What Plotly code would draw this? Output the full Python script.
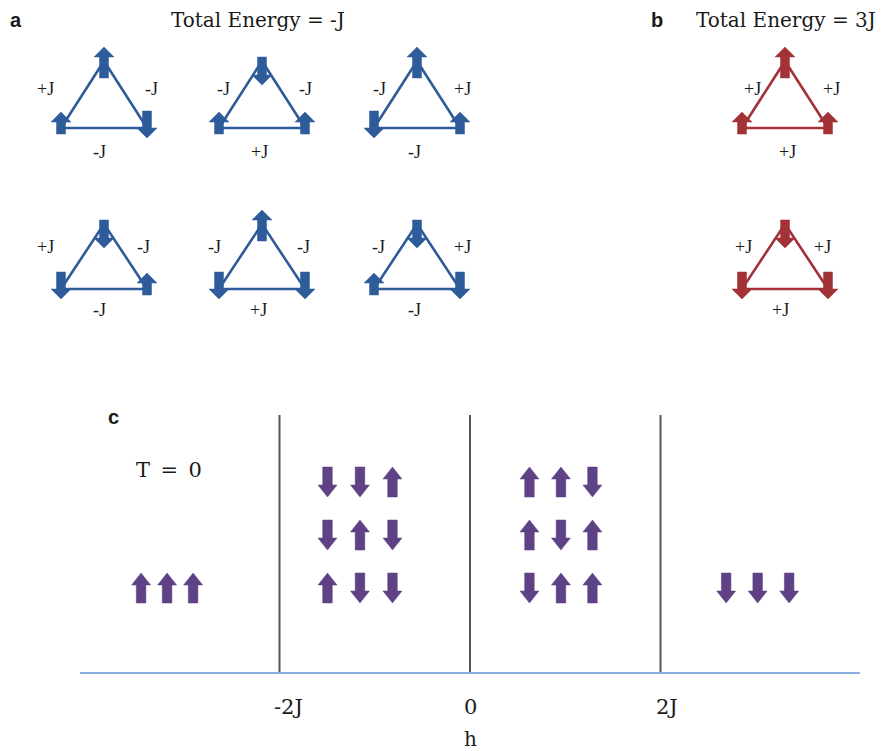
import plotly.graph_objects as go

W, H = 896, 751
OFF = 8  # page body margin in the browser

# ---------------- data ----------------
# spins at (top, bottom-left, bottom-right) vertices: +1 = up, -1 = down
a_spins = [[1, 1, -1], [-1, 1, 1], [1, -1, 1],
           [-1, -1, 1], [1, -1, -1], [-1, 1, -1]]
# bond labels (left edge, right edge, bottom edge)
a_bonds = [["+J", "-J", "-J"], ["-J", "-J", "+J"], ["-J", "+J", "-J"],
           ["+J", "-J", "-J"], ["-J", "-J", "+J"], ["-J", "+J", "-J"]]
b_spins = [[1, 1, 1], [-1, -1, -1]]
b_bonds = [["+J", "+J", "+J"], ["+J", "+J", "+J"]]

a_title = "Total Energy = -J"
b_title = "Total Energy = 3J"

# panel c: ground states in each field range
h_ticks = [-2, 0, 2]
h_tick_text = ["-2J", "0", "2J"]
h_label = "h"
phase_states = [
    [[1, 1, 1]],
    [[-1, -1, 1], [-1, 1, -1], [1, -1, -1]],
    [[1, 1, -1], [1, -1, 1], [-1, 1, 1]],
    [[-1, -1, -1]],
]
phase_center_h = [-3.18, -1.155, 0.955, 3.02]
phase_spacing_px = [26, 32.5, 31.5, 31.5]

# ---------------- styles / layout ----------------
BLUE = "#2E5B9A"
RED = "#A33236"
PURPLE = "#5F4285"
AXIS_BLUE = "#8CB0DF"
TEXT = "#1a1a1a"
SERIF = "DejaVu Serif"
LSERIF = "Liberation Serif"

a_cx = [104, 262, 417, 104, 262, 417]
a_row = [0, 0, 0, 1, 1, 1]
b_cx = [785, 785]
b_row = [0, 1]
apex_y = [61, 224]
base_y = [128, 289]
half_w = 43
side_label_y = [89, 247]
bottom_label_y = [152, 310]
a_label_dx = [(-59, 47, -5), (-39, 43, -3), (-38, 45, -3),
              (-59, 39, -5), (-48, 41, -4), (-39, 45, -3)]
b_label_dx = [(-33, 46, 2), (-42, 37, -5)]

# panel c pixel mapping
c_h0_px = 470
c_px_per_h = 95.25
c_left, c_right = 80, 860
c_top, c_bottom = 415, 672
c_row_y = [482, 535, 588]
tick_label_xshift = [9, 0, 6]
tick_label_y = 707
h_label_y = 739

FW, FH = W - 2 * OFF, H - OFF


def block_arrow(cx, y_tail, y_tip, shw, hhw, hl):
    d = 1 if y_tip > y_tail else -1
    neck = y_tip - d * hl
    xs = [cx - shw, cx - shw, cx - hhw, cx, cx + hhw, cx + shw, cx + shw, cx - shw, None]
    ys = [y_tail, neck, neck, y_tip, neck, neck, y_tail, y_tail, None]
    return xs, ys


fig = go.Figure()
annotations = []


def add_triangles(spins, bonds, cxs, rows, dxs, color):
    lx, ly = [], []
    ax, ay = [], []
    for s, b, cx, r, dx in zip(spins, bonds, cxs, rows, dxs):
        top = (cx, apex_y[r])
        bl = (cx - half_w, base_y[r])
        br = (cx + half_w, base_y[r])
        for p in (top, bl, br, top):
            lx.append(p[0]); ly.append(p[1])
        lx.append(None); ly.append(None)
        for k, (vx, vy) in enumerate((top, bl, br)):
            if k == 0:
                if s[k] > 0:
                    tail, tip = vy + 17, vy - 14
                else:
                    tail, tip = vy - 4, vy + 24
            else:
                if s[k] > 0:
                    tail, tip = vy + 6, vy - 16
                else:
                    tail, tip = vy - 17, vy + 10
            xs, ys = block_arrow(vx, tail, tip, 4.5, 10, 10)
            ax += xs; ay += ys
        for txt, x, y in ((b[0], cx + dx[0], side_label_y[r]),
                          (b[1], cx + dx[1], side_label_y[r]),
                          (b[2], cx + dx[2], bottom_label_y[r])):
            annotations.append(dict(x=x, y=y, xref="x", yref="y", text=txt,
                                    showarrow=False, xanchor="center", yanchor="middle",
                                    font=dict(family=LSERIF, size=18, color=TEXT)))
    fig.add_trace(go.Scatter(x=lx, y=ly, mode="lines", line=dict(color=color, width=2.6),
                             hoverinfo="skip", showlegend=False, xaxis="x", yaxis="y"))
    fig.add_trace(go.Scatter(x=ax, y=ay, mode="lines", fill="toself", fillcolor=color,
                             line=dict(color=color, width=0.5), hoverinfo="skip",
                             showlegend=False, xaxis="x", yaxis="y"))


add_triangles(a_spins, a_bonds, a_cx, a_row, a_label_dx, BLUE)
add_triangles(b_spins, b_bonds, b_cx, b_row, b_label_dx, RED)

# panel c arrows
px_, py_ = [], []
for states, ch, sp in zip(phase_states, phase_center_h, phase_spacing_px):
    cx = c_h0_px + ch * c_px_per_h
    rows = c_row_y[-len(states):] if len(states) < 3 else c_row_y
    for st, ry in zip(states, rows):
        for j, s in enumerate(st):
            x = cx + (j - 1) * sp
            if s > 0:
                xs, ys = block_arrow(x, ry + 15, ry - 15, 4.8, 9.5, 12)
            else:
                xs, ys = block_arrow(x, ry - 15, ry + 15, 4.8, 9.5, 12)
            px_ += xs; py_ += ys
fig.add_trace(go.Scatter(x=px_, y=py_, mode="lines", fill="toself", fillcolor=PURPLE,
                         line=dict(color=PURPLE, width=0.5), hoverinfo="skip",
                         showlegend=False, xaxis="x", yaxis="y"))

fig.add_trace(go.Scatter(x=h_ticks, y=[0, 0, 0], mode="markers", marker=dict(opacity=0),
                         hoverinfo="skip", showlegend=False, xaxis="x2", yaxis="y2"))

shapes = []
for h in h_ticks:
    shapes.append(dict(type="line", xref="x2", yref="y2", x0=h, x1=h, y0=0, y1=1,
                       line=dict(color="#555555", width=2)))

# tick labels and axis title placed on the h scale
for h, txt, xs in zip(h_ticks, h_tick_text, tick_label_xshift):
    annotations.append(dict(x=h, y=tick_label_y, xref="x2", yref="y", text=txt,
                            xshift=xs, showarrow=False, xanchor="center", yanchor="middle",
                            font=dict(family=SERIF, size=21, color=TEXT)))
annotations.append(dict(x=0, y=h_label_y, xref="x2", yref="y", text=h_label,
                        showarrow=False, xanchor="center", yanchor="middle",
                        font=dict(family=SERIF, size=20, color=TEXT)))

for txt, x, y in (("a", 16, 20), ("b", 657, 20), ("c", 113, 417)):
    annotations.append(dict(x=x, y=y, xref="x", yref="y", text="<b>%s</b>" % txt,
                            showarrow=False, xanchor="center", yanchor="middle",
                            font=dict(family="Liberation Sans", size=20, color=TEXT)))
for title, cx in ((a_title, 258), (b_title, 786)):
    annotations.append(dict(x=cx, y=20, xref="x", yref="y",
                            text=title.replace(" = ", "\u00a0=\u00a0"),
                            showarrow=False, xanchor="center", yanchor="middle",
                            font=dict(family=SERIF, size=20, color=TEXT)))
annotations.append(dict(x=169, y=470, xref="x", yref="y", text="T\u2002=\u20020",
                        showarrow=False, xanchor="center", yanchor="middle",
                        font=dict(family=SERIF, size=21, color=TEXT)))

h_lo = (c_left - c_h0_px) / c_px_per_h
h_hi = (c_right - c_h0_px) / c_px_per_h

fig.update_layout(
    width=FW, height=FH,
    margin=dict(l=0, r=0, t=0, b=0),
    paper_bgcolor="white", plot_bgcolor="rgba(0,0,0,0)",
    xaxis=dict(range=[OFF, W - OFF], domain=[0, 1], visible=False, fixedrange=True),
    yaxis=dict(range=[OFF + FH, OFF], domain=[0, 1], visible=False, fixedrange=True),
    xaxis2=dict(range=[h_lo, h_hi],
                domain=[(c_left - OFF) / FW, (c_right - OFF) / FW], anchor="y2",
                showline=True, linecolor=AXIS_BLUE, linewidth=2, showgrid=False,
                zeroline=False, ticks="", tickvals=h_ticks, showticklabels=False,
                fixedrange=True),
    yaxis2=dict(range=[0, 1], domain=[1 - (c_bottom - OFF) / FH, 1 - (c_top - OFF) / FH],
                anchor="x2", visible=False, fixedrange=True),
    shapes=shapes,
    annotations=annotations,
    showlegend=False,
)

fig.write_html("out.html")
